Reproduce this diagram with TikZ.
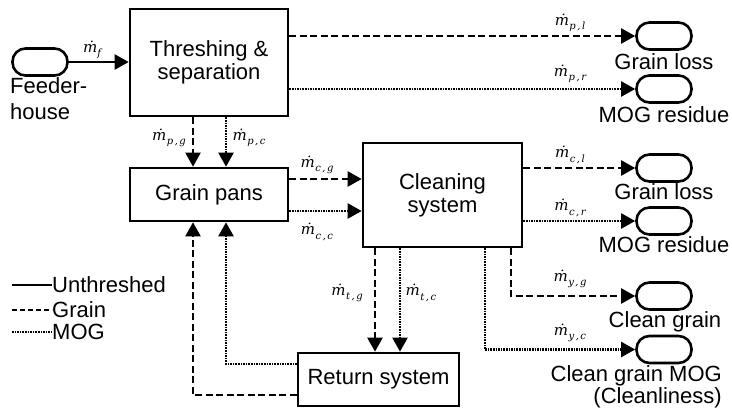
\documentclass[tikz,border=0pt]{standalone}
\usepackage{fontspec}
\setmainfont{Liberation Sans}
\newfontfamily\mser{DejaVu Serif}
\usetikzlibrary{arrows.meta}
\newcommand{\mdot}{{\mser\itshape\.{m}}}
\newcommand{\msub}[1]{\raisebox{-4.5pt}{\mser\itshape\fontsize{10}{11}\selectfont #1}}
\newcommand{\mflow}[2]{\mdot\msub{\kern0.5pt#1\kern1.5pt,\kern1.5pt#2}}
\begin{document}
\begin{tikzpicture}[x=1pt,y=-1pt,
  txt/.style={font=\fontsize{22}{23}\selectfont},
  blk/.style={draw,line width=2.6pt,rectangle,inner sep=0pt,txt,align=center},
  term/.style={draw,line width=2.6pt,rectangle,rounded corners=13pt,minimum width=55pt,minimum height=27pt,inner sep=0pt},
  lbl/.style={font=\fontsize{15}{16}\selectfont,inner sep=0pt},
  unth/.style={line width=2.2pt},
  grain/.style={line width=2.2pt,dash pattern=on 7pt off 3.5pt},
  mog/.style={line width=2.2pt,dash pattern=on 1.6pt off 1pt},
  tip/.style={-{Triangle[length=14pt,width=15pt]}},
  captxt/.style={txt,inner sep=0pt}
]
\useasboundingbox (0,0) rectangle (732,413);

% blocks
\node[blk,minimum width=158pt,minimum height=107pt] (thr) at (209,62.5) {Threshing \&\\separation};
\node[blk,minimum width=158pt,minimum height=53pt] (pans) at (209,194.5) {Grain pans};
\node[blk,minimum width=159pt,minimum height=104pt] (clean) at (442.5,195) {Cleaning\\system};
\node[blk,minimum width=161pt,minimum height=53pt] (ret) at (378.5,379.5) {Return system};

% terminators
\node[term] (fh) at (40,62) {};
\node[term] (t1) at (664,36) {};
\node[term] (t2) at (664,89) {};
\node[term] (t3) at (664,168) {};
\node[term] (t4) at (664,221) {};
\node[term] (t5) at (664,296) {};
\node[term] (t6) at (664,349.5) {};

% terminator captions
\node[captxt,anchor=north west,align=left,font=\fontsize{22}{26}\selectfont] (fhl) at (10,77) {Feeder-\\house};
\node[captxt] (c1) at (664,62) {Grain loss};
\node[captxt] (c2) at (664,115) {MOG residue};
\node[captxt] (c3) at (664,192) {Grain loss};
\node[captxt] (c4) at (664,245) {MOG residue};
\node[captxt] (c5) at (665,322) {Clean grain};
\node[captxt,anchor=east] (c6) at (722,376) {Clean grain MOG};
\node[captxt,anchor=east] (c7) at (722,398) {(Cleanliness)};

% helper coordinates
\coordinate (xg) at (193,0);
\coordinate (xc) at (226,0);
\coordinate (ycg) at (0,179);
\coordinate (ycc) at (0,211);
\coordinate (xtg) at (375,0);
\coordinate (xtc) at (400,0);
\coordinate (xyg) at (511,0);
\coordinate (xyc) at (485,0);
\coordinate (yrc) at (0,364);
\coordinate (yrg) at (0,395);

% connectors
\draw[unth,tip] (fh.east) -- (fh.east -| thr.west);
\draw[grain,tip] (thr.east |- t1) -- (t1.west);
\draw[mog,tip] (thr.east |- t2) -- (t2.west);
\draw[grain,tip] (thr.south -| xg) -- (pans.north -| xg);
\draw[mog,tip] (thr.south -| xc) -- (pans.north -| xc);
\draw[grain,tip] (pans.east |- ycg) -- (clean.west |- ycg);
\draw[mog,tip] (pans.east |- ycc) -- (clean.west |- ycc);
\draw[grain,tip] (clean.east |- t3) -- (t3.west);
\draw[mog,tip] (clean.east |- t4) -- (t4.west);
\draw[grain,tip] (clean.south -| xtg) -- (ret.north -| xtg);
\draw[mog,tip] (clean.south -| xtc) -- (ret.north -| xtc);
\draw[grain,tip] (clean.south -| xyg) |- (t5.west);
\draw[mog,tip] (clean.south -| xyc) |- (t6.west);
\draw[mog,tip] (ret.west |- yrc) -| (pans.south -| xc);
\draw[grain,tip] (ret.west |- yrg) -| (pans.south -| xg);

% flow labels
\node[lbl] (lf) at (92,50) {\mdot\msub{f}};
\node[lbl] (lpg) at (169,138) {\mflow{p}{g}};
\node[lbl] (lpc) at (249,138) {\mflow{p}{c}};
\node[lbl] (lcg) at (317,165) {\mflow{c}{g}};
\node[lbl] (lcc) at (317,232) {\mflow{c}{c}};
\node[lbl] (lpl) at (570,23) {\mflow{p}{l}};
\node[lbl] (lpr) at (570,74) {\mflow{p}{r}};
\node[lbl] (lcl) at (570,155) {\mflow{c}{l}};
\node[lbl] (lcr) at (570,208) {\mflow{c}{r}};
\node[lbl] (ltg) at (347,293) {\mflow{t}{g}};
\node[lbl] (ltc) at (421,293) {\mflow{t}{c}};
\node[lbl] (lyg) at (570,279) {\mflow{y}{g}};
\node[lbl] (lyc) at (570,333) {\mflow{y}{c}};

% legend
\coordinate (la1) at (12,285); \coordinate (lb1) at (52,285);
\coordinate (la2) at (12,310); \coordinate (lb2) at (52,310);
\coordinate (la3) at (12,332); \coordinate (lb3) at (52,332);
\draw[unth] (la1) -- (lb1);
\draw[grain,dash pattern=on 5pt off 3pt] (la2) -- (lb2);
\draw[mog] (la3) -- (lb3);
\node[captxt,anchor=west] (leg1) at (lb1) {Unthreshed};
\node[captxt,anchor=west] (leg2) at (lb2) {Grain};
\node[captxt,anchor=west] (leg3) at (lb3) {MOG};
\end{tikzpicture}
\end{document}
